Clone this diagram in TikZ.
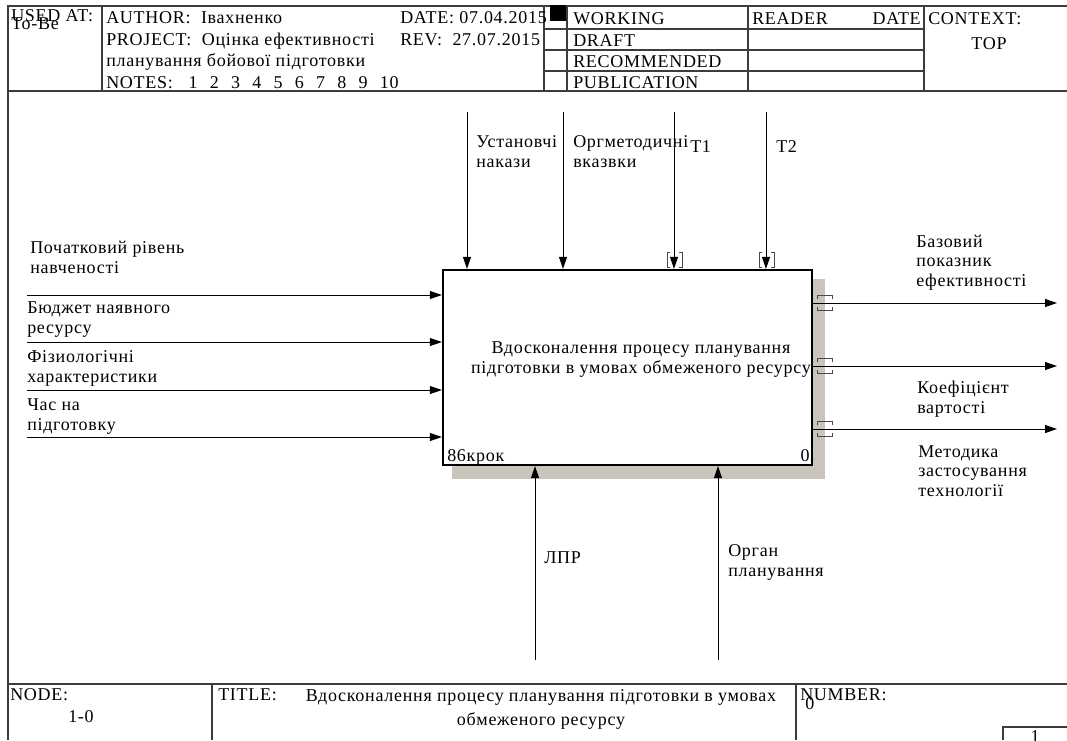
\documentclass[tikz,border=0pt]{standalone}
\usepackage{fontspec}
\setmainfont{Liberation Serif}
\newfontfamily\idefwide[LetterSpace=4]{Liberation Serif}
\usetikzlibrary{positioning, arrows.meta, backgrounds}
\definecolor{FrameA}{HTML}{3C3C3C}
\definecolor{ShadowA}{HTML}{C9C5BC}
\definecolor{TunnelA}{HTML}{4A4A4A}
\tikzset{
  frame/.style={draw=FrameA, line width=1pt},
  func/.style={draw, fill=white, line width=1.7pt, minimum width=276.75pt,
               minimum height=146.25pt, inner sep=0pt},
  arr/.style={-{Triangle[length=9pt,width=6pt]}, line width=0.75pt},
  tunnel/.style={draw=TunnelA, line width=0.75pt},
  hdr/.style={font=\idefwide\fontsize{13.5}{15}\selectfont, anchor=base west,
              inner sep=0pt},
  lbl/.style={font=\idefwide\fontsize{13.5}{14.6}\selectfont, align=left,
              anchor=base west, inner sep=0pt},
}
\newcommand{\notegap}{\hspace{9.2pt}}

\begin{document}
\begin{tikzpicture}[x=0.75pt, y=-0.75pt]
  \useasboundingbox (0,0) rectangle (1067,740);
  % form
  \draw[frame] (1067,6) -- (8,6) -- (8,740);
  \draw[frame] (8,91) -- (1067,91);
  \draw[frame] (8,684) -- (1067,684);
  \foreach \x in {102,544,567,748,924} \draw[frame] (\x,6) -- (\x,91);
  \foreach \y in {29,50,71} \draw[frame] (544,\y) -- (924,\y);
  \draw[frame] (212,684) -- (212,740);
  \draw[frame] (796,684) -- (796,740);
  \draw[frame] (1003,740) -- (1003,727) -- (1067,727);

  \node[hdr] (usedat) at (11,21) {USED AT:};
  \node[hdr] (tobe) at (11,29) {To-Be};
  \node[hdr] (author) at (106,23) {AUTHOR:\ \ Івахненко};
  \node[hdr] (project) at (106,45) {PROJECT:\ \ Оцінка ефективності};
  \node[hdr] (project2) at (106,66) {планування бойової підготовки};
  \node[hdr] (notes) at (106,88) {NOTES:\ \ \ 1\notegap 2\notegap 3\notegap 4\notegap
    5\notegap 6\notegap 7\notegap 8\notegap 9\notegap 10};
  \node[hdr] (date) at (400,23) {DATE: 07.04.2015};
  \node[hdr] (rev) at (400,45) {REV:\ \ 27.07.2015};
  \fill (550,5) rectangle (566,21);
  \node[hdr] (working) at (573,24) {WORKING};
  \node[hdr] (draft) at (573,46) {DRAFT};
  \node[hdr] (recom) at (573,67) {RECOMMENDED};
  \node[hdr] (publ) at (573,88) {PUBLICATION};
  \node[hdr] (reader) at (752,24) {READER};
  \node[hdr, anchor=base east] (rdate) at (921,24) {DATE};
  \node[hdr] (context) at (928,24) {CONTEXT:};
  \node[hdr, anchor=base] (ctxtop) at (989,49) {TOP};

  % activity box
  \node[func] (box) at (627.5,367.5) {};
  \begin{scope}[on background layer]
    \fill[ShadowA] ([shift={(10,10)}]box.north west)
      rectangle ([shift={(12,13)}]box.south east);
  \end{scope}
  \node[lbl, anchor=base, align=center] (boxtxt) at (641,373)
    {Вдосконалення процесу планування\\підготовки в умовах обмеженого ресурсу};
  \node[lbl] (boxnum) at (447,461) {86крок};
  \node[lbl, anchor=base east] (boxid) at (810,461) {0};

  % inputs
  \foreach \y/\n in {295/1,342/2,390/3,437/4} {
    \coordinate (in\n) at (27,\y);
    \draw[arr] (in\n) -- (in\n -| box.west);
  }
  \node[lbl] (inlbl1) at (30,273) {Початковий рівень\\навченості};
  \node[lbl] (inlbl2) at (27,333) {Бюджет наявного\\ресурсу};
  \node[lbl] (inlbl3) at (27,382) {Фізиологічні\\характеристики};
  \node[lbl] (inlbl4) at (27,430) {Час на\\підготовку};

  % controls
  \foreach \x/\n in {467/1,563/2,674/3,766/4} {
    \coordinate (ctl\n) at (\x,112);
    \draw[arr] (ctl\n) -- (ctl\n |- box.north);
  }
  \foreach \n in {3,4} {
    \draw[tunnel] ([shift={(-4,252)}]ctl\n |- 0,0) -- ++(-3,0) -- ++(0,15) -- ++(3,0);
    \draw[tunnel] ([shift={(5,252)}]ctl\n |- 0,0) -- ++(3,0) -- ++(0,15) -- ++(-3,0);
  }
  \node[lbl] (ctllbl1) at (476,167) {Установчі\\накази};
  \node[lbl] (ctllbl2) at (573,167) {Оргметодичні\\вказвки};
  \node[lbl] (ctllbl3) at (690,152) {T1};
  \node[lbl] (ctllbl4) at (776,152) {T2};

  % outputs
  \foreach \y/\n in {303/1,366/2,429/3} {
    \coordinate (out\n) at (1057,\y);
    \draw[arr] (out\n -| box.east) -- (out\n);
    \draw[tunnel] (817,\y-4) -- (817,\y-7.5) -- (832,\y-7.5) -- (832,\y-4);
    \draw[tunnel] (817,\y+4) -- (817,\y+7.5) -- (832,\y+7.5) -- (832,\y+4);
  }
  \node[lbl] (outlbl1) at (916,286) {Базовий\\показник\\ефективності};
  \node[lbl] (outlbl2) at (917,413) {Коефіцієнт\\вартості};
  \node[lbl] (outlbl3) at (918,496) {Методика\\застосування\\технології};

  % mechanisms
  \foreach \x/\n in {535/1,718/2} {
    \coordinate (mech\n) at (\x,660);
    \draw[arr] (mech\n) -- (mech\n |- box.south);
  }
  \node[lbl] (mechlbl1) at (544,563) {ЛПР};
  \node[lbl] (mechlbl2) at (728,576) {Орган\\планування};

  % footer
  \node[hdr] (nodelbl) at (10,700) {NODE:};
  \node[hdr] (nodenum) at (68,722) {1-0};
  \node[hdr] (titlelbl) at (218,700) {TITLE:};
  \node[hdr, anchor=base, align=center, font=\idefwide\fontsize{13.5}{18}\selectfont]
    (title) at (541,725)
    {Вдосконалення процесу планування підготовки в умовах\\обмеженого ресурсу};
  \node[hdr] (numlbl) at (800,700) {NUMBER:};
  \node[hdr] (numval) at (805,709) {0};
  \node[hdr, anchor=north] (page) at (1035,730) {1};
\end{tikzpicture}
\end{document}
